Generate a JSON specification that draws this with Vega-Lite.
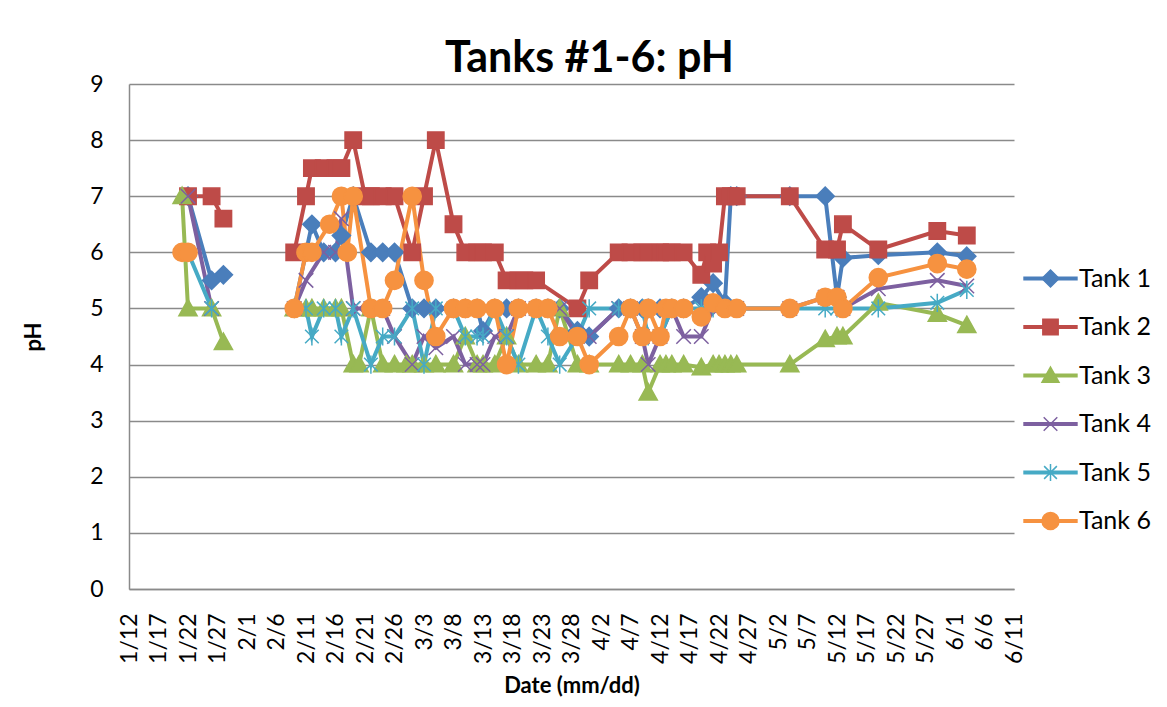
{
  "$schema": "https://vega.github.io/schema/vega-lite/v6.json",
  "width": 885,
  "height": 505,
  "autosize": {"type": "none"},
  "padding": {"left": 129, "top": 84, "right": 153, "bottom": 118},
  "background": "white",
  "title": {"text": "Tanks #1-6: pH", "font": "Lato", "fontSize": 43, "fontWeight": "bold", "color": "black", "anchor": "middle", "frame": "group", "dx": 18, "offset": -42, "baseline": "alphabetic"},
  "data": {
    "format": {"parse": {"date": "date:'%Y-%m-%d'"}},
    "values": [
      {"date":"2013-01-22","tank":"Tank 1","pH":7},
      {"date":"2013-01-26","tank":"Tank 1","pH":5.5},
      {"date":"2013-01-28","tank":"Tank 1","pH":5.6},
      {"date":"2013-02-03","tank":"Tank 1","pH":null},
      {"date":"2013-02-09","tank":"Tank 1","pH":5},
      {"date":"2013-02-12","tank":"Tank 1","pH":6.5},
      {"date":"2013-02-14","tank":"Tank 1","pH":6},
      {"date":"2013-02-16","tank":"Tank 1","pH":6},
      {"date":"2013-02-17","tank":"Tank 1","pH":6.3},
      {"date":"2013-02-19","tank":"Tank 1","pH":7},
      {"date":"2013-02-22","tank":"Tank 1","pH":6},
      {"date":"2013-02-24","tank":"Tank 1","pH":6},
      {"date":"2013-02-26","tank":"Tank 1","pH":6},
      {"date":"2013-03-01","tank":"Tank 1","pH":5},
      {"date":"2013-03-03","tank":"Tank 1","pH":5},
      {"date":"2013-03-05","tank":"Tank 1","pH":5},
      {"date":"2013-03-08","tank":"Tank 1","pH":5},
      {"date":"2013-03-10","tank":"Tank 1","pH":5},
      {"date":"2013-03-12","tank":"Tank 1","pH":5},
      {"date":"2013-03-13","tank":"Tank 1","pH":4.6},
      {"date":"2013-03-15","tank":"Tank 1","pH":5},
      {"date":"2013-03-17","tank":"Tank 1","pH":5},
      {"date":"2013-03-19","tank":"Tank 1","pH":5},
      {"date":"2013-03-22","tank":"Tank 1","pH":5},
      {"date":"2013-03-24","tank":"Tank 1","pH":5},
      {"date":"2013-03-26","tank":"Tank 1","pH":5},
      {"date":"2013-03-29","tank":"Tank 1","pH":4.6},
      {"date":"2013-03-31","tank":"Tank 1","pH":4.5},
      {"date":"2013-04-05","tank":"Tank 1","pH":5},
      {"date":"2013-04-07","tank":"Tank 1","pH":5},
      {"date":"2013-04-09","tank":"Tank 1","pH":5},
      {"date":"2013-04-10","tank":"Tank 1","pH":5},
      {"date":"2013-04-12","tank":"Tank 1","pH":5},
      {"date":"2013-04-14","tank":"Tank 1","pH":5},
      {"date":"2013-04-16","tank":"Tank 1","pH":5},
      {"date":"2013-04-19","tank":"Tank 1","pH":5.2},
      {"date":"2013-04-21","tank":"Tank 1","pH":5.45},
      {"date":"2013-04-23","tank":"Tank 1","pH":5.1},
      {"date":"2013-04-24","tank":"Tank 1","pH":7},
      {"date":"2013-04-25","tank":"Tank 1","pH":7},
      {"date":"2013-05-04","tank":"Tank 1","pH":7},
      {"date":"2013-05-10","tank":"Tank 1","pH":7},
      {"date":"2013-05-12","tank":"Tank 1","pH":5.2},
      {"date":"2013-05-13","tank":"Tank 1","pH":5.9},
      {"date":"2013-05-19","tank":"Tank 1","pH":5.95},
      {"date":"2013-05-29","tank":"Tank 1","pH":6},
      {"date":"2013-06-03","tank":"Tank 1","pH":5.93},

      {"date":"2013-01-22","tank":"Tank 2","pH":7},
      {"date":"2013-01-26","tank":"Tank 2","pH":7},
      {"date":"2013-01-28","tank":"Tank 2","pH":6.6},
      {"date":"2013-02-03","tank":"Tank 2","pH":null},
      {"date":"2013-02-09","tank":"Tank 2","pH":6},
      {"date":"2013-02-11","tank":"Tank 2","pH":7},
      {"date":"2013-02-12","tank":"Tank 2","pH":7.5},
      {"date":"2013-02-14","tank":"Tank 2","pH":7.5},
      {"date":"2013-02-16","tank":"Tank 2","pH":7.5},
      {"date":"2013-02-17","tank":"Tank 2","pH":7.5},
      {"date":"2013-02-19","tank":"Tank 2","pH":8},
      {"date":"2013-02-21","tank":"Tank 2","pH":7},
      {"date":"2013-02-22","tank":"Tank 2","pH":7},
      {"date":"2013-02-24","tank":"Tank 2","pH":7},
      {"date":"2013-02-26","tank":"Tank 2","pH":7},
      {"date":"2013-03-01","tank":"Tank 2","pH":6},
      {"date":"2013-03-03","tank":"Tank 2","pH":7},
      {"date":"2013-03-05","tank":"Tank 2","pH":8},
      {"date":"2013-03-08","tank":"Tank 2","pH":6.5},
      {"date":"2013-03-10","tank":"Tank 2","pH":6},
      {"date":"2013-03-12","tank":"Tank 2","pH":6},
      {"date":"2013-03-13","tank":"Tank 2","pH":6},
      {"date":"2013-03-15","tank":"Tank 2","pH":6},
      {"date":"2013-03-17","tank":"Tank 2","pH":5.5},
      {"date":"2013-03-19","tank":"Tank 2","pH":5.5},
      {"date":"2013-03-20","tank":"Tank 2","pH":5.5},
      {"date":"2013-03-22","tank":"Tank 2","pH":5.5},
      {"date":"2013-03-29","tank":"Tank 2","pH":5},
      {"date":"2013-03-31","tank":"Tank 2","pH":5.5},
      {"date":"2013-04-05","tank":"Tank 2","pH":6},
      {"date":"2013-04-07","tank":"Tank 2","pH":6},
      {"date":"2013-04-09","tank":"Tank 2","pH":6},
      {"date":"2013-04-10","tank":"Tank 2","pH":6},
      {"date":"2013-04-12","tank":"Tank 2","pH":6},
      {"date":"2013-04-13","tank":"Tank 2","pH":6},
      {"date":"2013-04-14","tank":"Tank 2","pH":6},
      {"date":"2013-04-16","tank":"Tank 2","pH":6},
      {"date":"2013-04-19","tank":"Tank 2","pH":5.6},
      {"date":"2013-04-20","tank":"Tank 2","pH":6},
      {"date":"2013-04-21","tank":"Tank 2","pH":5.8},
      {"date":"2013-04-22","tank":"Tank 2","pH":6},
      {"date":"2013-04-23","tank":"Tank 2","pH":7},
      {"date":"2013-04-24","tank":"Tank 2","pH":7},
      {"date":"2013-04-25","tank":"Tank 2","pH":7},
      {"date":"2013-05-04","tank":"Tank 2","pH":7},
      {"date":"2013-05-10","tank":"Tank 2","pH":6.05},
      {"date":"2013-05-12","tank":"Tank 2","pH":6.05},
      {"date":"2013-05-13","tank":"Tank 2","pH":6.5},
      {"date":"2013-05-19","tank":"Tank 2","pH":6.05},
      {"date":"2013-05-29","tank":"Tank 2","pH":6.38},
      {"date":"2013-06-03","tank":"Tank 2","pH":6.3},

      {"date":"2013-01-21","tank":"Tank 3","pH":7},
      {"date":"2013-01-22","tank":"Tank 3","pH":5},
      {"date":"2013-01-26","tank":"Tank 3","pH":5},
      {"date":"2013-01-28","tank":"Tank 3","pH":4.4},
      {"date":"2013-02-03","tank":"Tank 3","pH":null},
      {"date":"2013-02-09","tank":"Tank 3","pH":5},
      {"date":"2013-02-11","tank":"Tank 3","pH":5},
      {"date":"2013-02-12","tank":"Tank 3","pH":5},
      {"date":"2013-02-14","tank":"Tank 3","pH":5},
      {"date":"2013-02-16","tank":"Tank 3","pH":5},
      {"date":"2013-02-17","tank":"Tank 3","pH":5},
      {"date":"2013-02-19","tank":"Tank 3","pH":4},
      {"date":"2013-02-20","tank":"Tank 3","pH":4},
      {"date":"2013-02-22","tank":"Tank 3","pH":5},
      {"date":"2013-02-24","tank":"Tank 3","pH":4},
      {"date":"2013-02-26","tank":"Tank 3","pH":4},
      {"date":"2013-02-28","tank":"Tank 3","pH":4},
      {"date":"2013-03-01","tank":"Tank 3","pH":4},
      {"date":"2013-03-03","tank":"Tank 3","pH":4},
      {"date":"2013-03-05","tank":"Tank 3","pH":4},
      {"date":"2013-03-08","tank":"Tank 3","pH":4},
      {"date":"2013-03-10","tank":"Tank 3","pH":4.5},
      {"date":"2013-03-12","tank":"Tank 3","pH":4},
      {"date":"2013-03-13","tank":"Tank 3","pH":4},
      {"date":"2013-03-15","tank":"Tank 3","pH":4},
      {"date":"2013-03-17","tank":"Tank 3","pH":4.5},
      {"date":"2013-03-19","tank":"Tank 3","pH":4},
      {"date":"2013-03-22","tank":"Tank 3","pH":4},
      {"date":"2013-03-24","tank":"Tank 3","pH":4},
      {"date":"2013-03-26","tank":"Tank 3","pH":5},
      {"date":"2013-03-29","tank":"Tank 3","pH":4},
      {"date":"2013-03-31","tank":"Tank 3","pH":4},
      {"date":"2013-04-05","tank":"Tank 3","pH":4},
      {"date":"2013-04-07","tank":"Tank 3","pH":4},
      {"date":"2013-04-09","tank":"Tank 3","pH":4},
      {"date":"2013-04-10","tank":"Tank 3","pH":3.5},
      {"date":"2013-04-12","tank":"Tank 3","pH":4},
      {"date":"2013-04-13","tank":"Tank 3","pH":4},
      {"date":"2013-04-14","tank":"Tank 3","pH":4},
      {"date":"2013-04-16","tank":"Tank 3","pH":4},
      {"date":"2013-04-19","tank":"Tank 3","pH":3.95},
      {"date":"2013-04-21","tank":"Tank 3","pH":4},
      {"date":"2013-04-22","tank":"Tank 3","pH":4},
      {"date":"2013-04-23","tank":"Tank 3","pH":4},
      {"date":"2013-04-24","tank":"Tank 3","pH":4},
      {"date":"2013-04-25","tank":"Tank 3","pH":4},
      {"date":"2013-05-04","tank":"Tank 3","pH":4},
      {"date":"2013-05-10","tank":"Tank 3","pH":4.45},
      {"date":"2013-05-12","tank":"Tank 3","pH":4.5},
      {"date":"2013-05-13","tank":"Tank 3","pH":4.5},
      {"date":"2013-05-19","tank":"Tank 3","pH":5.1},
      {"date":"2013-05-29","tank":"Tank 3","pH":4.9},
      {"date":"2013-06-03","tank":"Tank 3","pH":4.7},

      {"date":"2013-01-22","tank":"Tank 4","pH":7},
      {"date":"2013-01-26","tank":"Tank 4","pH":5},
      {"date":"2013-02-03","tank":"Tank 4","pH":null},
      {"date":"2013-02-09","tank":"Tank 4","pH":5},
      {"date":"2013-02-11","tank":"Tank 4","pH":5.5},
      {"date":"2013-02-14","tank":"Tank 4","pH":6},
      {"date":"2013-02-16","tank":"Tank 4","pH":6},
      {"date":"2013-02-17","tank":"Tank 4","pH":6.6},
      {"date":"2013-02-19","tank":"Tank 4","pH":5},
      {"date":"2013-02-20","tank":"Tank 4","pH":5},
      {"date":"2013-02-22","tank":"Tank 4","pH":5},
      {"date":"2013-02-24","tank":"Tank 4","pH":5},
      {"date":"2013-02-26","tank":"Tank 4","pH":4.5},
      {"date":"2013-03-01","tank":"Tank 4","pH":4},
      {"date":"2013-03-03","tank":"Tank 4","pH":4.5},
      {"date":"2013-03-05","tank":"Tank 4","pH":4.3},
      {"date":"2013-03-08","tank":"Tank 4","pH":4.5},
      {"date":"2013-03-10","tank":"Tank 4","pH":4},
      {"date":"2013-03-12","tank":"Tank 4","pH":4},
      {"date":"2013-03-13","tank":"Tank 4","pH":4},
      {"date":"2013-03-15","tank":"Tank 4","pH":4.5},
      {"date":"2013-03-17","tank":"Tank 4","pH":4.5},
      {"date":"2013-03-19","tank":"Tank 4","pH":5},
      {"date":"2013-03-22","tank":"Tank 4","pH":5},
      {"date":"2013-03-24","tank":"Tank 4","pH":5},
      {"date":"2013-03-26","tank":"Tank 4","pH":5},
      {"date":"2013-03-29","tank":"Tank 4","pH":4.5},
      {"date":"2013-03-31","tank":"Tank 4","pH":4.5},
      {"date":"2013-04-05","tank":"Tank 4","pH":5},
      {"date":"2013-04-07","tank":"Tank 4","pH":5},
      {"date":"2013-04-09","tank":"Tank 4","pH":4.5},
      {"date":"2013-04-10","tank":"Tank 4","pH":4},
      {"date":"2013-04-12","tank":"Tank 4","pH":4.5},
      {"date":"2013-04-14","tank":"Tank 4","pH":5},
      {"date":"2013-04-16","tank":"Tank 4","pH":4.5},
      {"date":"2013-04-19","tank":"Tank 4","pH":4.5},
      {"date":"2013-04-21","tank":"Tank 4","pH":5},
      {"date":"2013-04-22","tank":"Tank 4","pH":5},
      {"date":"2013-04-25","tank":"Tank 4","pH":5},
      {"date":"2013-05-04","tank":"Tank 4","pH":5},
      {"date":"2013-05-10","tank":"Tank 4","pH":5.2},
      {"date":"2013-05-12","tank":"Tank 4","pH":5.2},
      {"date":"2013-05-13","tank":"Tank 4","pH":5},
      {"date":"2013-05-19","tank":"Tank 4","pH":5.35},
      {"date":"2013-05-29","tank":"Tank 4","pH":5.5},
      {"date":"2013-06-03","tank":"Tank 4","pH":5.4},

      {"date":"2013-01-22","tank":"Tank 5","pH":6},
      {"date":"2013-01-26","tank":"Tank 5","pH":5},
      {"date":"2013-02-03","tank":"Tank 5","pH":null},
      {"date":"2013-02-09","tank":"Tank 5","pH":5},
      {"date":"2013-02-11","tank":"Tank 5","pH":5},
      {"date":"2013-02-12","tank":"Tank 5","pH":4.5},
      {"date":"2013-02-14","tank":"Tank 5","pH":5},
      {"date":"2013-02-16","tank":"Tank 5","pH":5},
      {"date":"2013-02-17","tank":"Tank 5","pH":4.5},
      {"date":"2013-02-19","tank":"Tank 5","pH":5},
      {"date":"2013-02-22","tank":"Tank 5","pH":4},
      {"date":"2013-02-24","tank":"Tank 5","pH":4.5},
      {"date":"2013-02-26","tank":"Tank 5","pH":4.5},
      {"date":"2013-03-01","tank":"Tank 5","pH":5},
      {"date":"2013-03-03","tank":"Tank 5","pH":4},
      {"date":"2013-03-05","tank":"Tank 5","pH":5},
      {"date":"2013-03-08","tank":"Tank 5","pH":5},
      {"date":"2013-03-10","tank":"Tank 5","pH":4.5},
      {"date":"2013-03-12","tank":"Tank 5","pH":4.5},
      {"date":"2013-03-13","tank":"Tank 5","pH":4.5},
      {"date":"2013-03-15","tank":"Tank 5","pH":5},
      {"date":"2013-03-17","tank":"Tank 5","pH":4.5},
      {"date":"2013-03-19","tank":"Tank 5","pH":4},
      {"date":"2013-03-22","tank":"Tank 5","pH":5},
      {"date":"2013-03-24","tank":"Tank 5","pH":4.5},
      {"date":"2013-03-26","tank":"Tank 5","pH":4},
      {"date":"2013-03-29","tank":"Tank 5","pH":4.5},
      {"date":"2013-03-31","tank":"Tank 5","pH":5},
      {"date":"2013-04-05","tank":"Tank 5","pH":5},
      {"date":"2013-04-07","tank":"Tank 5","pH":5},
      {"date":"2013-04-09","tank":"Tank 5","pH":5},
      {"date":"2013-04-10","tank":"Tank 5","pH":4.5},
      {"date":"2013-04-12","tank":"Tank 5","pH":4.5},
      {"date":"2013-04-14","tank":"Tank 5","pH":5},
      {"date":"2013-04-16","tank":"Tank 5","pH":5},
      {"date":"2013-04-19","tank":"Tank 5","pH":5},
      {"date":"2013-04-21","tank":"Tank 5","pH":5},
      {"date":"2013-04-23","tank":"Tank 5","pH":5},
      {"date":"2013-04-25","tank":"Tank 5","pH":5},
      {"date":"2013-05-04","tank":"Tank 5","pH":5},
      {"date":"2013-05-10","tank":"Tank 5","pH":5},
      {"date":"2013-05-12","tank":"Tank 5","pH":5},
      {"date":"2013-05-13","tank":"Tank 5","pH":5},
      {"date":"2013-05-19","tank":"Tank 5","pH":5},
      {"date":"2013-05-29","tank":"Tank 5","pH":5.1},
      {"date":"2013-06-03","tank":"Tank 5","pH":5.33},

      {"date":"2013-01-21","tank":"Tank 6","pH":6},
      {"date":"2013-01-22","tank":"Tank 6","pH":6},
      {"date":"2013-02-03","tank":"Tank 6","pH":null},
      {"date":"2013-02-09","tank":"Tank 6","pH":5},
      {"date":"2013-02-11","tank":"Tank 6","pH":6},
      {"date":"2013-02-12","tank":"Tank 6","pH":6},
      {"date":"2013-02-15","tank":"Tank 6","pH":6.5},
      {"date":"2013-02-17","tank":"Tank 6","pH":7},
      {"date":"2013-02-18","tank":"Tank 6","pH":6},
      {"date":"2013-02-19","tank":"Tank 6","pH":7},
      {"date":"2013-02-22","tank":"Tank 6","pH":5},
      {"date":"2013-02-24","tank":"Tank 6","pH":5},
      {"date":"2013-02-26","tank":"Tank 6","pH":5.5},
      {"date":"2013-03-01","tank":"Tank 6","pH":7},
      {"date":"2013-03-03","tank":"Tank 6","pH":5.5},
      {"date":"2013-03-05","tank":"Tank 6","pH":4.5},
      {"date":"2013-03-08","tank":"Tank 6","pH":5},
      {"date":"2013-03-10","tank":"Tank 6","pH":5},
      {"date":"2013-03-12","tank":"Tank 6","pH":5},
      {"date":"2013-03-15","tank":"Tank 6","pH":5},
      {"date":"2013-03-17","tank":"Tank 6","pH":4},
      {"date":"2013-03-19","tank":"Tank 6","pH":5},
      {"date":"2013-03-22","tank":"Tank 6","pH":5},
      {"date":"2013-03-24","tank":"Tank 6","pH":5},
      {"date":"2013-03-26","tank":"Tank 6","pH":4.5},
      {"date":"2013-03-29","tank":"Tank 6","pH":4.5},
      {"date":"2013-03-31","tank":"Tank 6","pH":4},
      {"date":"2013-04-05","tank":"Tank 6","pH":4.5},
      {"date":"2013-04-07","tank":"Tank 6","pH":5},
      {"date":"2013-04-09","tank":"Tank 6","pH":4.5},
      {"date":"2013-04-10","tank":"Tank 6","pH":5},
      {"date":"2013-04-12","tank":"Tank 6","pH":4.5},
      {"date":"2013-04-13","tank":"Tank 6","pH":5},
      {"date":"2013-04-14","tank":"Tank 6","pH":5},
      {"date":"2013-04-16","tank":"Tank 6","pH":5},
      {"date":"2013-04-19","tank":"Tank 6","pH":4.85},
      {"date":"2013-04-21","tank":"Tank 6","pH":5.1},
      {"date":"2013-04-23","tank":"Tank 6","pH":5},
      {"date":"2013-04-25","tank":"Tank 6","pH":5},
      {"date":"2013-05-04","tank":"Tank 6","pH":5},
      {"date":"2013-05-10","tank":"Tank 6","pH":5.2},
      {"date":"2013-05-12","tank":"Tank 6","pH":5.2},
      {"date":"2013-05-13","tank":"Tank 6","pH":5},
      {"date":"2013-05-19","tank":"Tank 6","pH":5.55},
      {"date":"2013-05-29","tank":"Tank 6","pH":5.8},
      {"date":"2013-06-03","tank":"Tank 6","pH":5.7}
    ]
  },
  "encoding": {
    "x": {
      "field": "date", "type": "temporal",
      "scale": {"domain": [{"year":2013,"month":1,"date":12}, {"year":2013,"month":6,"date":11}], "nice": false},
      "axis": {
        "title": "Date (mm/dd)",
        "values": [
          {"year":2013,"month":1,"date":12},{"year":2013,"month":1,"date":17},{"year":2013,"month":1,"date":22},{"year":2013,"month":1,"date":27},
          {"year":2013,"month":2,"date":1},{"year":2013,"month":2,"date":6},{"year":2013,"month":2,"date":11},{"year":2013,"month":2,"date":16},{"year":2013,"month":2,"date":21},{"year":2013,"month":2,"date":26},
          {"year":2013,"month":3,"date":3},{"year":2013,"month":3,"date":8},{"year":2013,"month":3,"date":13},{"year":2013,"month":3,"date":18},{"year":2013,"month":3,"date":23},{"year":2013,"month":3,"date":28},
          {"year":2013,"month":4,"date":2},{"year":2013,"month":4,"date":7},{"year":2013,"month":4,"date":12},{"year":2013,"month":4,"date":17},{"year":2013,"month":4,"date":22},{"year":2013,"month":4,"date":27},
          {"year":2013,"month":5,"date":2},{"year":2013,"month":5,"date":7},{"year":2013,"month":5,"date":12},{"year":2013,"month":5,"date":17},{"year":2013,"month":5,"date":22},{"year":2013,"month":5,"date":27},
          {"year":2013,"month":6,"date":1},{"year":2013,"month":6,"date":6},{"year":2013,"month":6,"date":11}
        ],
        "format": "%-m/%-d",
        "labelAngle": -90,
        "labelFontSize": 23,
        "labelPadding": 24,
        "labelFlush": false,
        "labelOverlap": false,
        "labelBound": false,
        "ticks": false,
        "grid": false,
        "domainColor": "#8a8a8a",
        "domainWidth": 1.5,
        "titlePadding": 12,
        "titleFontSize": 22
      }
    },
    "y": {
      "field": "pH", "type": "quantitative",
      "scale": {"domain": [0, 9], "nice": false},
      "axis": {
        "title": "pH",
        "values": [0,1,2,3,4,5,6,7,8,9],
        "labelFontSize": 23,
        "labelPadding": 26,
        "ticks": false,
        "grid": true,
        "gridColor": "#8a8a8a",
        "gridWidth": 1.5,
        "domainColor": "#8a8a8a",
        "domainWidth": 1.5,
        "titlePadding": 44,
        "titleFontSize": 22
      }
    }
  },
  "layer": [
    {
      "mark": {"type": "line", "strokeWidth": 4},
      "encoding": {
        "color": {
          "field": "tank", "type": "nominal",
          "scale": {"range": ["#4A7EBB","#BE4B48","#98B954","#7D60A0","#46AAC5","#F69240"]},
          "legend": {
            "title": null,
            "orient": "none",
            "legendX": 909,
            "legendY": 182,
            "padding": 0,
            "symbolType": "M-3.2,0L3.2,0",
            "symbolSize": 289,
            "symbolStrokeWidth": 4,
            "labelExpr": "''",
            "labelFont": "Lato",
            "labelFontSize": 25,
            "labelOffset": 16,
            "rowPadding": 22.5
          }
        }
      }
    },
    {
      "mark": {"type": "point", "filled": true, "opacity": 1, "size": 330, "strokeWidth": 1.5},
      "encoding": {
        "fill": {
          "field": "tank", "type": "nominal",
          "scale": {"domain": ["Tank 1","Tank 2","Tank 3","Tank 4","Tank 5","Tank 6"], "range": ["#4A7EBB","#BE4B48","#98B954","#7D60A0","#46AAC5","#F69240"]},
          "legend": {
            "title": null,
            "orient": "none",
            "legendX": 909,
            "legendY": 182,
            "padding": 0,
            "symbolSize": 289,
            "symbolStrokeWidth": 1.5,
            "labelFont": "Lato",
            "labelFontSize": 25,
            "labelColor": "black",
            "labelOffset": 16,
            "rowPadding": 22.5
          }
        },
        "shape": {
          "field": "tank", "type": "nominal",
          "scale": {"domain": ["Tank 1","Tank 2","Tank 3","Tank 4","Tank 5","Tank 6"], "range": [
            "M0,-1L1,0L0,1L-1,0Z",
            "M-0.9,-0.9L0.9,-0.9L0.9,0.9L-0.9,0.9Z",
            "M0,-1L1,0.8L-1,0.8Z",
            "M-0.8,-0.8L0.8,0.8M-0.8,0.8L0.8,-0.8",
            "M-0.75,-0.75L0.75,0.75M-0.75,0.75L0.75,-0.75M0,-1L0,1",
            "M-1,0A1,1,0,1,1,1,0A1,1,0,1,1,-1,0Z"
          ]},
          "legend": {
            "title": null,
            "orient": "none",
            "legendX": 909,
            "legendY": 182,
            "padding": 0,
            "symbolSize": 289,
            "symbolStrokeWidth": 1.5,
            "labelFont": "Lato",
            "labelFontSize": 25,
            "labelColor": "black",
            "labelOffset": 16,
            "rowPadding": 22.5
          }
        },
        "stroke": {
          "field": "tank", "type": "nominal",
          "scale": {"domain": ["Tank 1","Tank 2","Tank 3","Tank 4","Tank 5","Tank 6"], "range": ["#4A7EBB","#BE4B48","#98B954","#7D60A0","#46AAC5","#F69240"]},
          "legend": null
        }
      }
    }
  ],
  "config": {
    "font": "Lato",
    "view": {"stroke": null},
    "axis": {"labelFont": "Lato", "titleFont": "Lato", "labelColor": "black", "titleColor": "black", "titleFontWeight": "bold"}
  }
}
